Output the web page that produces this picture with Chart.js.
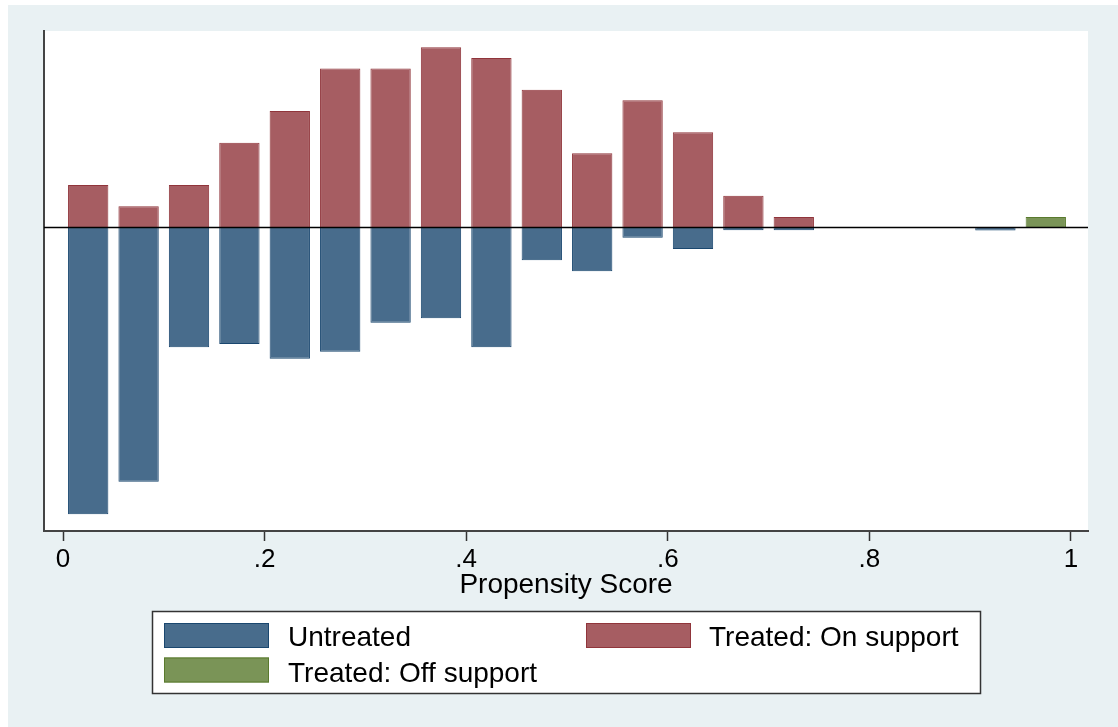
<!DOCTYPE html>
<html>
<head>
<meta charset="utf-8">
<title>Propensity Score</title>
<script src="https://cdn.jsdelivr.net/npm/chart.js@4.4.1/dist/chart.umd.min.js"></script>
<style>
  html, body { margin: 0; padding: 0; background: #ffffff; }
  canvas { display: block; }
</style>
</head>
<body>
<canvas id="ps" width="1118" height="727"></canvas>
<script>
// Propensity score bins (centres, width 0.05)
const binCenters = [0.025, 0.075, 0.125, 0.175, 0.225, 0.275, 0.325, 0.375, 0.425, 0.475,
                    0.525, 0.575, 0.625, 0.675, 0.725, 0.775, 0.825, 0.875, 0.925, 0.975];

// Densities per bin (untreated are drawn below the zero line)
const untreated      = [3.923, 3.477, 1.639, 1.594, 1.795, 1.699, 1.302, 1.242, 1.639, 0.449,
                        0.599, 0.140, 0.294, 0.038, 0.038, null, null, null, 0.041, null];
const treatedOn      = [0.580, 0.290, 0.580, 1.159, 1.594, 2.174, 2.174, 2.464, 2.319, 1.884,
                        1.014, 1.739, 1.304, 0.435, 0.145, null, null, null, null, null];
const treatedOff     = [null, null, null, null, null, null, null, null, null, null,
                        null, null, null, null, null, null, null, null, null, 0.145];

const seriesLabels = ['Untreated', 'Treated: On support', 'Treated: Off support'];
const tickValues = [0, 0.2, 0.4, 0.6, 0.8, 1];
const tickLabels = ['0', '.2', '.4', '.6', '.8', '1'];
const axisTitle = 'Propensity Score';

const FONT = '"Liberation Sans", Arial, Helvetica, sans-serif';
const fills   = ['#486C8C', '#A65D62', '#7A9457'];
const borders = ['#1A476F', '#90353B', '#597A2D'];

function points(values, sign) {
  const out = [];
  values.forEach((v, i) => {
    if (v !== null) out.push({ x: binCenters[i], y: sign * v });
  });
  return out;
}

const backgroundPlugin = {
  id: 'backgrounds',
  beforeDraw(chart) {
    const { ctx, width, height, chartArea } = chart;
    ctx.save();
    ctx.fillStyle = '#ffffff';
    ctx.fillRect(0, 0, width, height);
    ctx.fillStyle = '#E9F1F3';
    ctx.fillRect(8, 5, width - 8, height - 5);
    ctx.fillStyle = '#ffffff';
    ctx.fillRect(chartArea.left, chartArea.top, chartArea.right - chartArea.left, chartArea.bottom - chartArea.top);
    ctx.restore();
  }
};

const zeroLinePlugin = {
  id: 'zeroLine',
  afterDatasetsDraw(chart) {
    const { ctx, chartArea, scales } = chart;
    const y0 = scales.y.getPixelForValue(0);
    ctx.save();
    ctx.strokeStyle = '#000000';
    ctx.lineWidth = 1.5;
    ctx.beginPath();
    ctx.moveTo(chartArea.left, y0);
    ctx.lineTo(chartArea.right, y0);
    ctx.stroke();
    ctx.restore();
  }
};

const legendBoxPlugin = {
  id: 'legendBox',
  afterDraw(chart) {
    const { ctx } = chart;
    const ds = chart.data.datasets;
    ctx.save();
    ctx.fillStyle = '#ffffff';
    ctx.fillRect(152.5, 611.5, 828, 82);
    ctx.strokeStyle = '#333333';
    ctx.lineWidth = 1.5;
    ctx.strokeRect(152.5, 611.5, 828, 82);
    const slots = [
      { sx: 164, sy: 623, tx: 288, ty: 646 },
      { sx: 586, sy: 623, tx: 709, ty: 646 },
      { sx: 164, sy: 657.5, tx: 288, ty: 681.5 }
    ];
    ctx.font = '28px ' + FONT;
    ctx.textBaseline = 'alphabetic';
    ctx.textAlign = 'left';
    ds.forEach((d, i) => {
      const s = slots[i];
      ctx.fillStyle = d.backgroundColor;
      ctx.fillRect(s.sx, s.sy, 105, 25);
      ctx.strokeStyle = d.borderColor;
      ctx.lineWidth = 1;
      ctx.strokeRect(s.sx + 0.5, s.sy + 0.5, 104, 24);
      ctx.fillStyle = '#000000';
      ctx.fillText(d.label, s.tx, s.ty);
    });
    ctx.restore();
  }
};

new Chart(document.getElementById('ps'), {
  type: 'bar',
  data: {
    datasets: [
      { label: seriesLabels[0], data: points(untreated, -1), backgroundColor: fills[0], borderColor: borders[0], borderWidth: 1 },
      { label: seriesLabels[1], data: points(treatedOn, 1),  backgroundColor: fills[1], borderColor: borders[1], borderWidth: 1 },
      { label: seriesLabels[2], data: points(treatedOff, 1), backgroundColor: fills[2], borderColor: borders[2], borderWidth: 1 }
    ]
  },
  options: {
    responsive: false,
    animation: false,
    devicePixelRatio: 1,
    categoryPercentage: 1,
    barPercentage: 0.8,
    layout: { padding: { left: 44, top: 31, right: 30, bottom: 128 } },
    plugins: { legend: { display: false }, tooltip: { enabled: false } },
    scales: {
      x: {
        type: 'linear',
        stacked: true,
        offset: false,
        min: -0.01885,
        max: 1.01687,
        afterBuildTicks(scale) { scale.ticks = tickValues.map(v => ({ value: v })); },
        ticks: {
          color: '#000000',
          padding: 6,
          maxRotation: 0,
          autoSkip: false,
          font: { family: FONT, size: 26, lineHeight: 1 },
          callback(value) {
            const i = tickValues.indexOf(value);
            return i >= 0 ? tickLabels[i] : '';
          }
        },
        grid: { display: true, offset: false, drawOnChartArea: false, drawTicks: true, tickLength: 10, tickWidth: 1.5, tickColor: '#333333', color: '#333333' },
        border: { display: true, color: '#444444', width: 2 },
        title: {
          display: true,
          text: axisTitle,
          color: '#000000',
          font: { family: FONT, size: 28, lineHeight: 1 },
          padding: { top: -8, bottom: 0 }
        }
      },
      y: {
        stacked: true,
        min: -4.152,
        max: 2.688,
        ticks: { display: false },
        grid: { display: false },
        border: { display: true, color: '#444444', width: 2 },
        afterFit(scale) { scale.width = 0; }
      }
    }
  },
  plugins: [backgroundPlugin, zeroLinePlugin, legendBoxPlugin]
});
</script>
</body>
</html>
